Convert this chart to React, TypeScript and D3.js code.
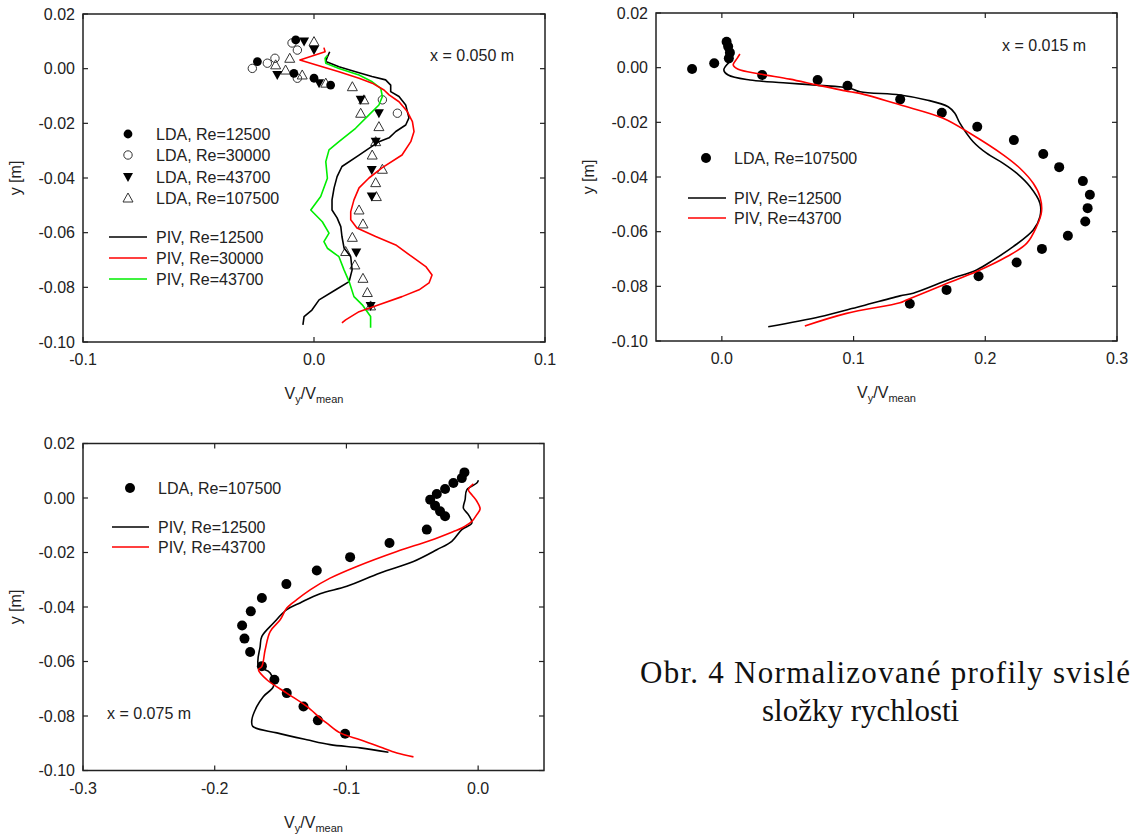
import React from 'react';
import * as d3 from 'd3';

type P = [number, number];

// ---------- tick values ----------
const Y_TICKS = [0.02, 0, -0.02, -0.04, -0.06, -0.08, -0.1];
const X_TICKS_A = [-0.1, 0, 0.1];
const X_TICKS_B = [0, 0.1, 0.2, 0.3];
const X_TICKS_C = [-0.3, -0.2, -0.1, 0];

// ---------- panel A (x = 0.050 m) ----------
const A_LDA_12500: P[] = [
  [-0.0079, 0.0105], [-0.0245, 0.0026], [-0.0087, -0.0017], [0.0, -0.0035], [0.0072, -0.006],
];
const A_LDA_30000: P[] = [
  [-0.0095, 0.0094], [-0.0072, 0.0068], [-0.0169, 0.0038], [-0.0202, 0.002], [-0.0267, 0.0001],
  [-0.0072, -0.0035], [0.0296, -0.0114], [0.0361, -0.0163],
];
const A_LDA_43700: P[] = [
  [-0.0043, 0.0099], [0.0, 0.0068], [-0.0159, -0.0023], [0.0022, -0.0053], [0.0202, -0.0114],
  [0.0281, -0.0163], [0.0267, -0.0267], [0.025, -0.0371], [0.025, -0.0468], [0.0183, -0.0673],
  [0.0245, -0.0868],
];
const A_LDA_107500: P[] = [
  [0.0, 0.0099], [-0.0105, 0.0038], [-0.0166, 0.0014], [-0.0123, -0.0005], [-0.0051, -0.0023],
  [0.0051, -0.0053], [0.0166, -0.0066], [0.0216, -0.0114], [0.0202, -0.0163], [0.0281, -0.0212],
  [0.0267, -0.0267], [0.0252, -0.0316], [0.0296, -0.0368], [0.0267, -0.0417], [0.027, -0.0468],
  [0.0195, -0.0517], [0.0212, -0.0568], [0.0166, -0.0617], [0.0137, -0.0669], [0.0177, -0.0718],
  [0.0212, -0.0767], [0.0231, -0.0819], [0.0245, -0.0868],
];
const A_PIV_12500: P[] = [
  [0.0068, 0.0062], [0.0056, 0.0039], [0.0051, 0.0026], [0.0108, 0.0007], [0.018, -0.0011],
  [0.0251, -0.0029], [0.031, -0.0041], [0.0332, -0.006], [0.0332, -0.0084], [0.0368, -0.0102],
  [0.0397, -0.0133], [0.0411, -0.018], [0.0397, -0.0206], [0.0354, -0.023], [0.0325, -0.0253],
  [0.0281, -0.0267], [0.0195, -0.0316], [0.0121, -0.0358], [0.01, -0.0395], [0.0087, -0.0436],
  [0.0078, -0.048], [0.0078, -0.0517], [0.01, -0.0546], [0.0116, -0.0578], [0.0121, -0.0614],
  [0.013, -0.0656], [0.0159, -0.0688], [0.0165, -0.0736], [0.0152, -0.0779], [0.0094, -0.0809],
  [0.0022, -0.0846], [-0.0009, -0.0883], [-0.0043, -0.0907], [-0.0048, -0.0937],
];
const A_PIV_30000: P[] = [
  [0.0043, 0.0077], [0.0048, 0.0062], [-0.0061, 0.0032], [0.0007, 0.0014], [0.0108, -0.0011],
  [0.0195, -0.0035], [0.0252, -0.0053], [0.0303, -0.0078], [0.0325, -0.0096], [0.0368, -0.0121],
  [0.0404, -0.0157], [0.0426, -0.0194], [0.0433, -0.023], [0.0419, -0.0267], [0.0381, -0.0316],
  [0.0294, -0.0363], [0.0238, -0.04], [0.0195, -0.0436], [0.0173, -0.048], [0.0159, -0.0523],
  [0.0159, -0.0553], [0.0186, -0.0583], [0.0267, -0.0614], [0.0354, -0.0645], [0.0424, -0.0688],
  [0.0484, -0.0724], [0.0511, -0.0755], [0.0498, -0.0784], [0.0455, -0.0809], [0.0381, -0.0834],
  [0.0281, -0.0864], [0.0195, -0.0889], [0.0137, -0.0919], [0.0121, -0.093],
];
const A_PIV_43700: P[] = [
  [0.0058, 0.0048], [0.0048, 0.0038], [0.0051, 0.002], [0.0108, 0.0001], [0.0195, -0.0023],
  [0.0252, -0.0048], [0.0289, -0.0072], [0.0296, -0.0102], [0.0281, -0.0133], [0.0238, -0.0169],
  [0.018, -0.0218], [0.0108, -0.0267], [0.0065, -0.0297], [0.0051, -0.034], [0.0058, -0.0401],
  [0.0029, -0.0468], [-0.0014, -0.0517], [0.0036, -0.056], [0.0065, -0.0602], [0.0043, -0.0633],
  [0.0058, -0.0657], [0.0108, -0.0688], [0.013, -0.0736], [0.0152, -0.0779], [0.0173, -0.0834],
  [0.0209, -0.0864], [0.0245, -0.0907], [0.0245, -0.0948],
];

// ---------- panel B (x = 0.015 m) ----------
const B_LDA_107500: P[] = [
  [0.0036, 0.0095], [0.0048, 0.0077], [0.0061, 0.0055], [0.0053, 0.0034], [-0.0226, -0.0005],
  [-0.0058, 0.0016], [0.0306, -0.0027], [0.0727, -0.0045], [0.0954, -0.0066], [0.1354, -0.0116],
  [0.167, -0.0165], [0.1939, -0.0216], [0.2217, -0.0265], [0.244, -0.0316], [0.2561, -0.0364],
  [0.2741, -0.0415], [0.2794, -0.0465], [0.2777, -0.0514], [0.2759, -0.0563], [0.2627, -0.0615],
  [0.243, -0.0663], [0.2238, -0.0713], [0.1949, -0.0763], [0.1706, -0.0813], [0.1427, -0.0864],
];
const B_PIV_12500: P[] = [
  [0.0061, 0.0022], [0.0015, -0.0008], [0.0048, -0.0027], [0.0213, -0.0045], [0.0465, -0.0055],
  [0.0719, -0.0064], [0.0972, -0.0075], [0.105, -0.0088], [0.1352, -0.01], [0.1554, -0.0118],
  [0.1718, -0.0143], [0.1769, -0.0167], [0.1807, -0.0203], [0.1908, -0.0271], [0.201, -0.0313],
  [0.2136, -0.035], [0.2238, -0.0386], [0.2339, -0.0435], [0.2415, -0.0496], [0.2415, -0.0545],
  [0.2364, -0.0594], [0.2212, -0.0655], [0.206, -0.0704], [0.1934, -0.074], [0.1731, -0.0774],
  [0.1453, -0.0825], [0.1352, -0.0835], [0.1048, -0.0874], [0.0997, -0.088], [0.0744, -0.0911],
  [0.0352, -0.0948],
];
const B_PIV_43700: P[] = [
  [0.0137, 0.005], [0.0116, 0.0034], [0.0086, 0.001], [0.0124, -0.0006], [0.0289, -0.0023],
  [0.0516, -0.0042], [0.0719, -0.0063], [0.0972, -0.0088], [0.1048, -0.0094], [0.1352, -0.0136],
  [0.168, -0.0185], [0.1883, -0.024], [0.2136, -0.0319], [0.2263, -0.0368], [0.2364, -0.0423],
  [0.2415, -0.0472], [0.2427, -0.0527], [0.2389, -0.0582], [0.2314, -0.0643], [0.2162, -0.0692],
  [0.1934, -0.0746], [0.168, -0.0795], [0.1402, -0.085], [0.1352, -0.086], [0.0947, -0.0899],
  [0.063, -0.0945],
];

// ---------- panel C (x = 0.075 m) ----------
const C_LDA_107500: P[] = [
  [-0.0104, 0.0094], [-0.0124, 0.0073], [-0.0188, 0.0055], [-0.0251, 0.0033], [-0.0314, 0.0015],
  [-0.0364, -0.0006], [-0.0327, -0.0028], [-0.0289, -0.0049], [-0.0251, -0.0067], [-0.039, -0.0116],
  [-0.0673, -0.0165], [-0.0972, -0.0217], [-0.1225, -0.0266], [-0.1456, -0.0316], [-0.1642, -0.0367],
  [-0.1726, -0.0416], [-0.1792, -0.0468], [-0.1774, -0.0516], [-0.1731, -0.0565], [-0.1642, -0.0617],
  [-0.1547, -0.0667], [-0.1453, -0.0716], [-0.1326, -0.0765], [-0.1217, -0.0816], [-0.101, -0.0865],
];
const C_PIV_12500: P[] = [
  [0.0002, 0.0065], [-0.001, 0.0055], [-0.0086, 0.003], [-0.0099, -0.0006], [-0.0112, -0.0037],
  [-0.0074, -0.0061], [-0.0048, -0.0092], [-0.0124, -0.0116], [-0.02, -0.0159], [-0.0314, -0.019],
  [-0.0491, -0.0233], [-0.0744, -0.0275], [-0.0997, -0.0324], [-0.12, -0.0351], [-0.1352, -0.0385],
  [-0.1453, -0.041], [-0.1554, -0.0459], [-0.1642, -0.0508], [-0.1655, -0.0545], [-0.1668, -0.0615],
  [-0.1579, -0.0642], [-0.1554, -0.0691], [-0.163, -0.0728], [-0.168, -0.0765], [-0.1718, -0.0814],
  [-0.1711, -0.0838], [-0.1528, -0.0862], [-0.1301, -0.0887], [-0.1124, -0.0905], [-0.0896, -0.0917],
  [-0.0681, -0.0933],
];
const C_PIV_43700: P[] = [
  [-0.0036, 0.0052], [-0.0074, 0.003], [-0.0048, 0.0012], [-0.001, -0.0012], [0.0015, -0.004],
  [-0.001, -0.0061], [-0.0048, -0.0086], [-0.0124, -0.011], [-0.0188, -0.0123], [-0.0364, -0.0156],
  [-0.0617, -0.0196], [-0.0921, -0.0251], [-0.1124, -0.0294], [-0.1276, -0.0337], [-0.1377, -0.0373],
  [-0.1453, -0.0404], [-0.1503, -0.0447], [-0.1579, -0.049], [-0.1617, -0.0557], [-0.1642, -0.0618],
  [-0.1668, -0.063], [-0.1604, -0.0667], [-0.1453, -0.0716], [-0.1301, -0.0765], [-0.12, -0.0807],
  [-0.1149, -0.0826], [-0.1048, -0.0862], [-0.0896, -0.0887], [-0.0744, -0.0914], [-0.0617, -0.0936],
  [-0.0491, -0.095],
];

const CAPTION_1 = 'Obr. 4 Normalizované profily svislé';
const CAPTION_2 = 'složky rychlosti';

const FONT = "'Liberation Sans', Arial, Helvetica, sans-serif";
const AX = '#222';

type MarkerKind = 'dot' | 'filledCircle' | 'openCircle' | 'downTri' | 'upTri';

function Marker({ kind, x, y }: { kind: MarkerKind; x: number; y: number }) {
  if (kind === 'dot') return <circle cx={x} cy={y} r={5} fill="#000" />;
  if (kind === 'filledCircle') return <circle cx={x} cy={y} r={4.4} fill="#000" />;
  if (kind === 'openCircle')
    return <circle cx={x} cy={y} r={4.2} fill="none" stroke="#333" strokeWidth={1} />;
  if (kind === 'downTri')
    return <path d={`M${x - 5},${y - 4}L${x + 5},${y - 4}L${x},${y + 5}Z`} fill="#000" />;
  return (
    <path d={`M${x - 5},${y + 4}L${x + 5},${y + 4}L${x},${y - 5}Z`} fill="none" stroke="#333" strokeWidth={1} />
  );
}

interface Frame { left: number; right: number; top: number; bottom: number; }

function fmt(v: number, d: number) {
  return Math.abs(v) < 1e-9 ? (0).toFixed(d) : v.toFixed(d);
}

function Axes({ f, x, y, xTicks }: { f: Frame; x: d3.ScaleLinear<number, number>; y: d3.ScaleLinear<number, number>; xTicks: number[] }) {
  const tl = 5;
  const cx = (f.left + f.right) / 2;
  const cy = (f.top + f.bottom) / 2;
  return (
    <g fontFamily={FONT} fontSize={16} fill={AX}>
      <rect x={f.left} y={f.top} width={f.right - f.left} height={f.bottom - f.top} fill="none" stroke={AX} strokeWidth={1.5} />
      {Y_TICKS.map((t) => (
        <g key={'y' + t}>
          <line x1={f.left} x2={f.left + tl} y1={y(t)} y2={y(t)} stroke={AX} strokeWidth={1.2} />
          <line x1={f.right} x2={f.right - tl} y1={y(t)} y2={y(t)} stroke={AX} strokeWidth={1.2} />
          <text x={f.left - 8} y={y(t)} dy="0.35em" textAnchor="end">{fmt(t, 2)}</text>
        </g>
      ))}
      {xTicks.map((t) => (
        <g key={'x' + t}>
          <line x1={x(t)} x2={x(t)} y1={f.bottom} y2={f.bottom - tl} stroke={AX} strokeWidth={1.2} />
          <line x1={x(t)} x2={x(t)} y1={f.top} y2={f.top + tl} stroke={AX} strokeWidth={1.2} />
          <text x={x(t)} y={f.bottom + 23} textAnchor="middle">{fmt(t, 1)}</text>
        </g>
      ))}
      <text x={cx} y={f.bottom + 57} textAnchor="middle">
        V<tspan fontSize={11} dy={4}>y</tspan>
        <tspan dy={-4}>/V</tspan>
        <tspan fontSize={11} dy={4}>mean</tspan>
      </text>
      <text transform={`translate(${f.left - 62},${cy}) rotate(-90)`} textAnchor="middle">y [m]</text>
    </g>
  );
}

function Series({ data, x, y, kind }: { data: P[]; x: any; y: any; kind: MarkerKind }) {
  return (
    <g>
      {data.map((d, i) => (
        <Marker key={i} kind={kind} x={x(d[0])} y={y(d[1])} />
      ))}
    </g>
  );
}

function Line({ data, x, y, color, smooth }: { data: P[]; x: any; y: any; color: string; smooth?: boolean }) {
  const gen = d3
    .line<P>()
    .x((d) => x(d[0]))
    .y((d) => y(d[1]))
    .curve(smooth ? d3.curveCatmullRom.alpha(0.5) : d3.curveLinear);
  return <path d={gen(data) || ''} fill="none" stroke={color} strokeWidth={1.6} strokeLinejoin="round" />;
}

function LegendLine({ x1, x2, y, color }: { x1: number; x2: number; y: number; color: string }) {
  return <line x1={x1} x2={x2} y1={y} y2={y} stroke={color} strokeWidth={1.6} />;
}

function LegendText({ x, y, children }: { x: number; y: number; children: React.ReactNode }) {
  return (
    <text x={x} y={y} dy="0.35em" fontFamily={FONT} fontSize={16} fill={AX}>
      {children}
    </text>
  );
}

export default function App() {
  const fA: Frame = { left: 83, right: 545, top: 14, bottom: 342 };
  const fB: Frame = { left: 656, right: 1117, top: 13, bottom: 341 };
  const fC: Frame = { left: 83, right: 544, top: 443.5, bottom: 770.5 };

  const xA = d3.scaleLinear().domain([-0.1, 0.1]).range([fA.left, fA.right]);
  const yA = d3.scaleLinear().domain([-0.1, 0.02]).range([fA.bottom, fA.top]);
  const xB = d3.scaleLinear().domain([-0.05, 0.3]).range([fB.left, fB.right]);
  const yB = d3.scaleLinear().domain([-0.1, 0.02]).range([fB.bottom, fB.top]);
  const xC = d3.scaleLinear().domain([-0.3, 0.05]).range([fC.left, fC.right]);
  const yC = d3.scaleLinear().domain([-0.1, 0.02]).range([fC.bottom, fC.top]);

  return (
    <svg
      width={1135}
      height={838}
      viewBox="0 0 1135 838"
      style={{ position: 'absolute', left: 0, top: 0, display: 'block', background: '#fff' }}
    >
      <rect x={0} y={0} width={1135} height={838} fill="#fff" />

      {/* Panel A */}
      <Axes f={fA} x={xA} y={yA} xTicks={X_TICKS_A} />
      <Series data={A_LDA_107500} x={xA} y={yA} kind="upTri" />
      <Series data={A_LDA_30000} x={xA} y={yA} kind="openCircle" />
      <Series data={A_LDA_43700} x={xA} y={yA} kind="downTri" />
      <Series data={A_LDA_12500} x={xA} y={yA} kind="filledCircle" />
      <Line data={A_PIV_12500} x={xA} y={yA} color="#000" />
      <Line data={A_PIV_43700} x={xA} y={yA} color="#00ee00" />
      <Line data={A_PIV_30000} x={xA} y={yA} color="#ff0000" />
      <text x={430} y={55} dy="0.35em" fontFamily={FONT} fontSize={16} fill={AX}>x = 0.050 m</text>
      <Marker kind="filledCircle" x={128} y={134} />
      <LegendText x={156} y={134}>LDA, Re=12500</LegendText>
      <Marker kind="openCircle" x={128} y={155} />
      <LegendText x={156} y={155}>LDA, Re=30000</LegendText>
      <Marker kind="downTri" x={128} y={177} />
      <LegendText x={156} y={177}>LDA, Re=43700</LegendText>
      <Marker kind="upTri" x={128} y={198} />
      <LegendText x={156} y={198}>LDA, Re=107500</LegendText>
      <LegendLine x1={109} x2={147} y={237} color="#000" />
      <LegendText x={156} y={237}>PIV, Re=12500</LegendText>
      <LegendLine x1={109} x2={147} y={258} color="#ff0000" />
      <LegendText x={156} y={258}>PIV, Re=30000</LegendText>
      <LegendLine x1={109} x2={147} y={279} color="#00ee00" />
      <LegendText x={156} y={279}>PIV, Re=43700</LegendText>

      {/* Panel B */}
      <Axes f={fB} x={xB} y={yB} xTicks={X_TICKS_B} />
      <Series data={B_LDA_107500} x={xB} y={yB} kind="dot" />
      <Line data={B_PIV_12500} x={xB} y={yB} color="#000" smooth />
      <Line data={B_PIV_43700} x={xB} y={yB} color="#ff0000" smooth />
      <text x={1002} y={45} dy="0.35em" fontFamily={FONT} fontSize={16} fill={AX}>x = 0.015 m</text>
      <Marker kind="dot" x={706} y={158} />
      <LegendText x={734} y={158}>LDA, Re=107500</LegendText>
      <LegendLine x1={688} x2={726} y={198} color="#000" />
      <LegendText x={734} y={198}>PIV, Re=12500</LegendText>
      <LegendLine x1={688} x2={726} y={218} color="#ff0000" />
      <LegendText x={734} y={218}>PIV, Re=43700</LegendText>

      {/* Panel C */}
      <Axes f={fC} x={xC} y={yC} xTicks={X_TICKS_C} />
      <Series data={C_LDA_107500} x={xC} y={yC} kind="dot" />
      <Line data={C_PIV_12500} x={xC} y={yC} color="#000" smooth />
      <Line data={C_PIV_43700} x={xC} y={yC} color="#ff0000" smooth />
      <text x={107} y={713} dy="0.35em" fontFamily={FONT} fontSize={16} fill={AX}>x = 0.075 m</text>
      <Marker kind="dot" x={130} y={488} />
      <LegendText x={158} y={488}>LDA, Re=107500</LegendText>
      <LegendLine x1={112} x2={149} y={527} color="#000" />
      <LegendText x={158} y={527}>PIV, Re=12500</LegendText>
      <LegendLine x1={112} x2={149} y={547} color="#ff0000" />
      <LegendText x={158} y={547}>PIV, Re=43700</LegendText>

      {/* Caption */}
      <g fontFamily="'Liberation Serif', 'Times New Roman', serif" fontSize={31} fill="#111">
        <text x={640} y={683} textLength={490} lengthAdjust="spacing">{CAPTION_1}</text>
        <text x={762} y={721}>{CAPTION_2}</text>
      </g>
    </svg>
  );
}
